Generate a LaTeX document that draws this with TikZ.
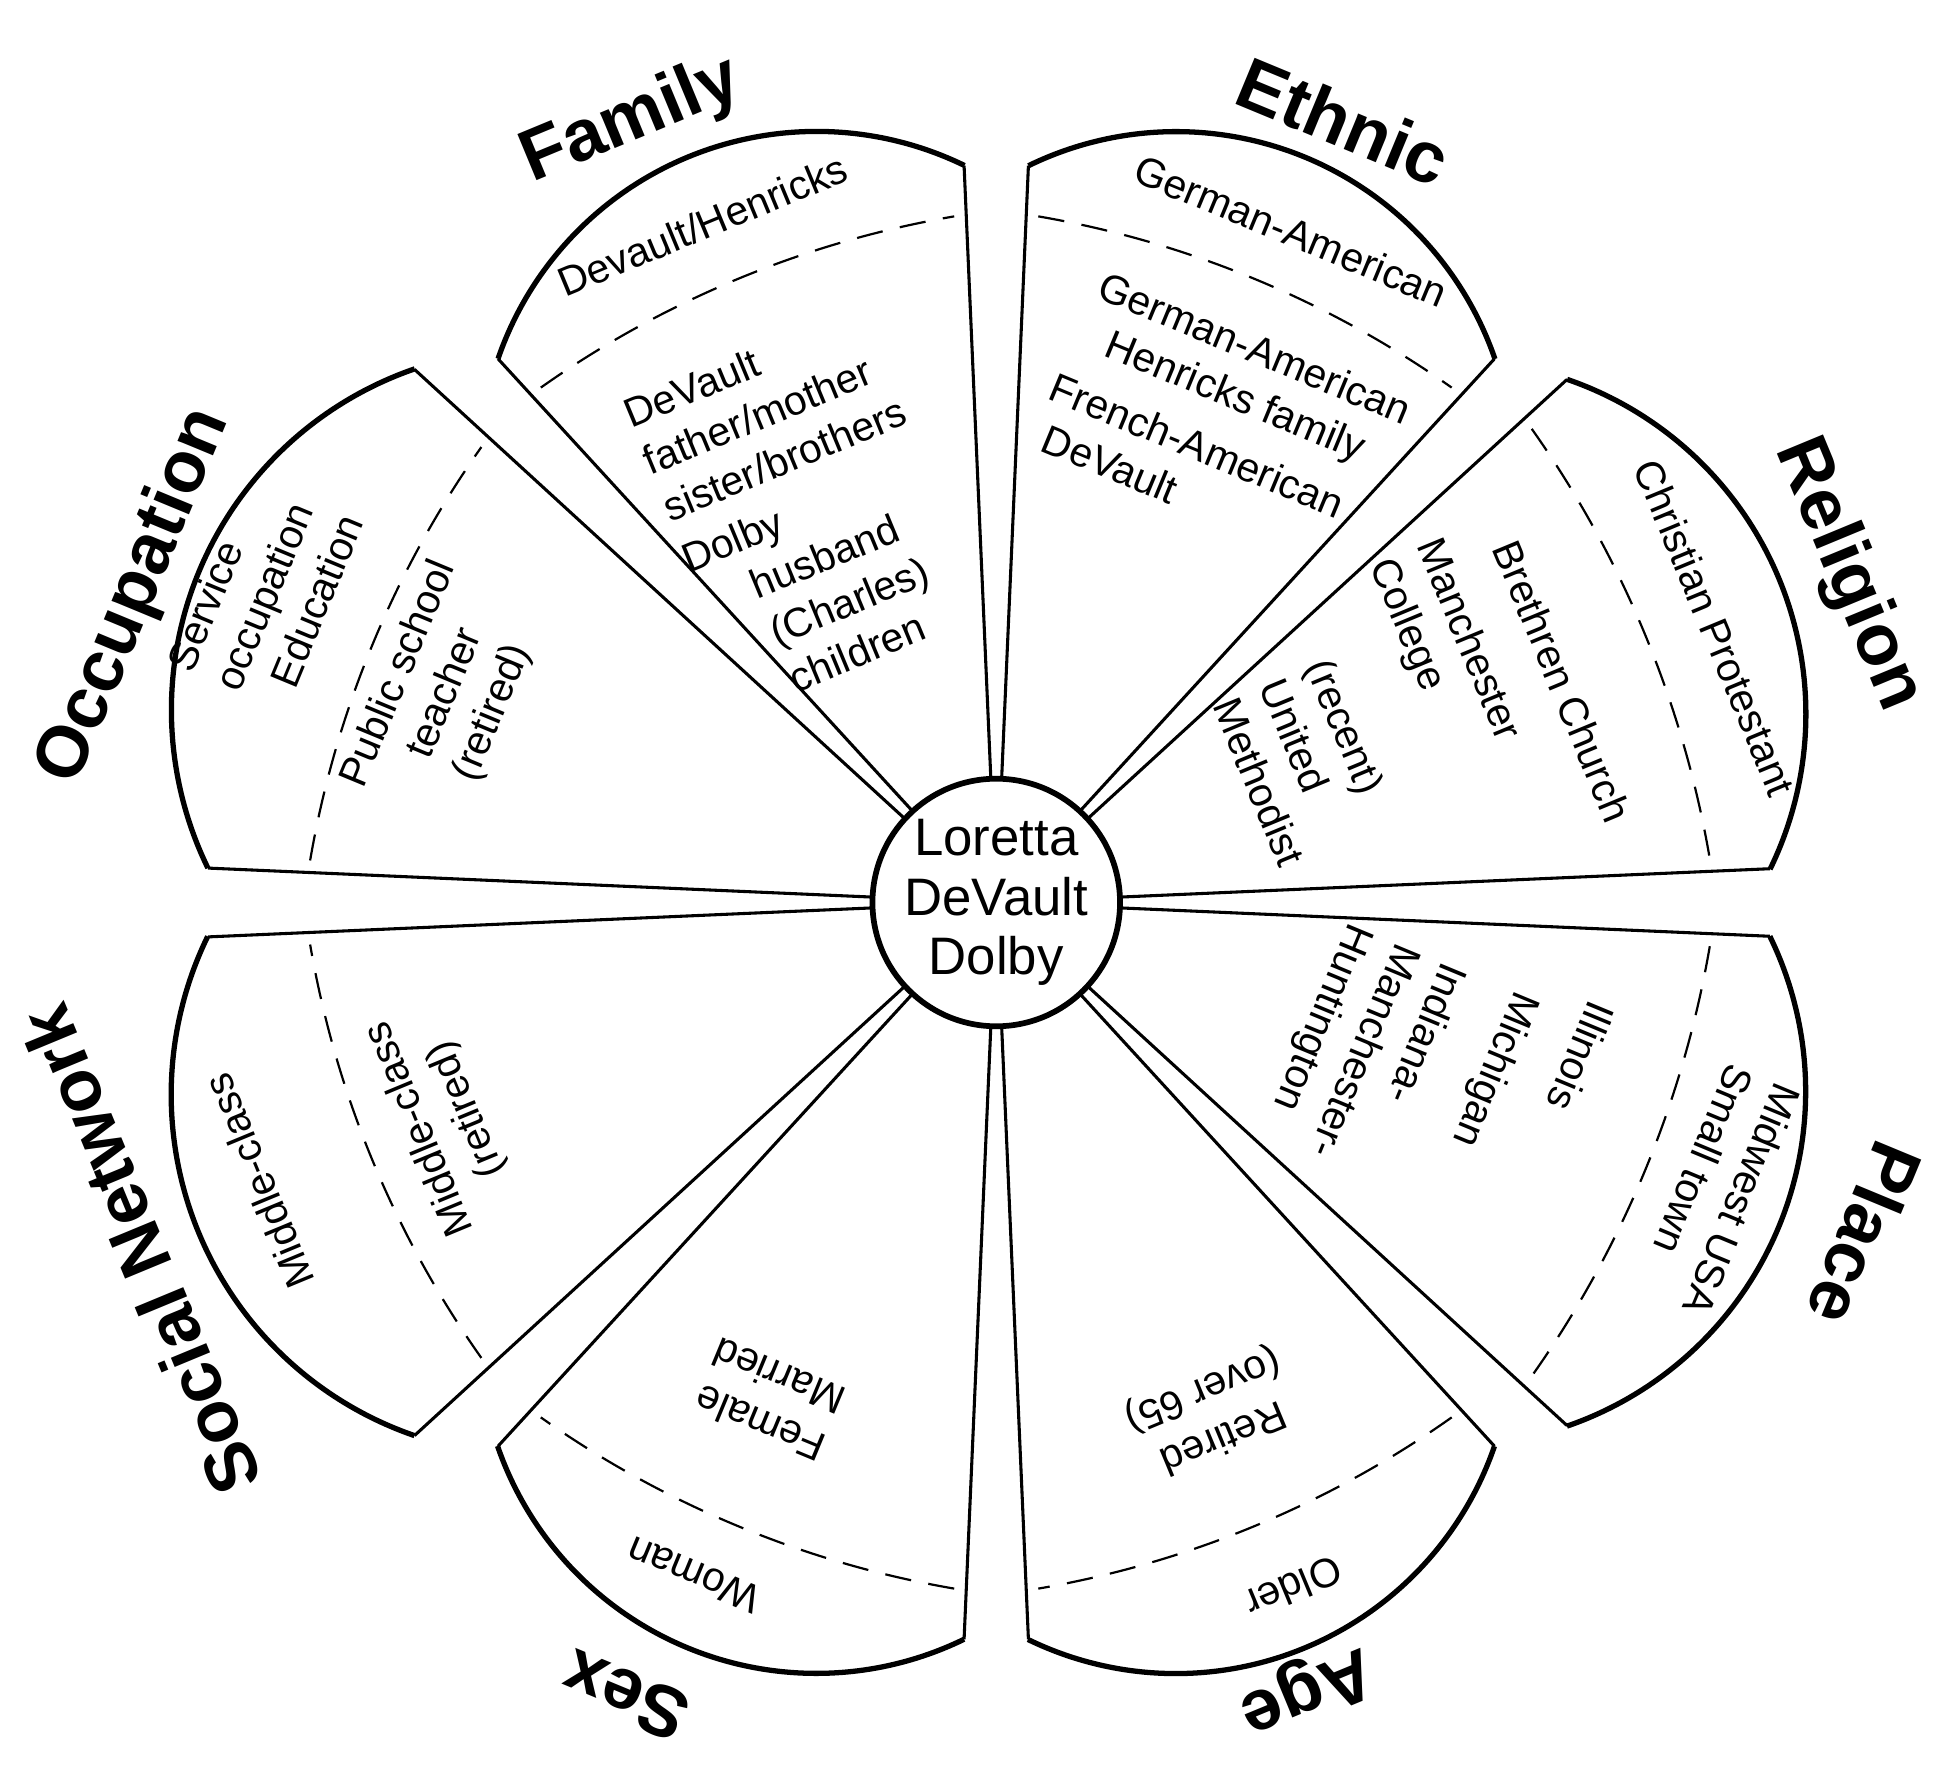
\documentclass[tikz,border=0pt]{standalone}
\usepackage{fontspec}
\setmainfont{Liberation Sans}
\usetikzlibrary{calc}
\begin{document}
\begin{tikzpicture}[x=0.01cm,y=0.01cm,
  cat/.style={font=\fontsize{16.5}{18}\selectfont\bfseries},
  txt/.style={font=\fontsize{9.3}{11.5}\selectfont,align=center},
  txl/.style={font=\fontsize{9.3}{11.5}\selectfont,align=left},
  side/.style={line width=0.7pt},
  rim/.style={line width=1.2pt},
  dsh/.style={line width=0.5pt,dash pattern=on 6pt off 4pt}]
\useasboundingbox (0,0) rectangle (1568,1432);
\coordinate (C) at (797,710);
\foreach \p/\s/\d in {22.5/1.05/1.04,67.5/1/1,112.5/1/1,157.5/1.07/1.0,202.5/1.07/1.0,247.5/1/1,292.5/1/1,337.5/1.05/1.04}{
  \draw[side] (C) -- ($(C)+(\p+20:590*\s)$) coordinate (A);
  \draw[side] (C) -- ($(C)+(\p-20:590*\s)$);
  \draw[rim] (A) arc[start angle=\p+48.5, end angle=\p-48.5, radius=269.7*\s];
  \draw[dsh] ($(C)+(\p+180:271*\d)+(\p+12.75:811*\d)$) arc[start angle=\p+12.75, end angle=\p-12.75, radius=811*\d];
}
\node[circle,draw,line width=1.3pt,fill=white,minimum size=1.8cm,inner sep=0pt,
  font=\fontsize{12}{13.5}\selectfont,align=center] (ctr) at (C) {Loretta\\DeVault\\Dolby};
% categories
\node[cat,rotate=22.5] (cfam) at (505,1335) {Family};
\node[cat,rotate=-22.5] (ceth) at (1075,1335) {Ethnic};
\node[cat,rotate=-67.5] (crel) at (1478,972) {Religion};
\node[cat,rotate=-112.5] (cpla) at (1492,445) {Place};
\node[cat,rotate=-157.5] (cage) at (1045,80) {Age};
\node[cat,rotate=157.5] (csex) at (500,75) {Sex};
\node[cat,rotate=112.5] (csoc) at (112,432) {Social Network};
\node[cat,rotate=67.5] (cocc) at (108,955) {Occupation};
% family
\node[txt,rotate=22.5] (f1) at (562,1252) {Devault/Henricks};
\node[txl,rotate=22.5] (f2) at (612,1102) {DeVault\\father/mother\\sister/brothers};
\node[txl,rotate=22.5] (f3) at (652,962) {Dolby\\\hspace{1.3em}husband\\\hspace{1.3em}(Charles)\\\hspace{1.3em}children};
% ethnic
\node[txt,rotate=-22.5] (e1) at (1033,1247) {German-American};
\node[txt,rotate=-22.5] (e2) at (995,1132) {German-American\\Henricks family};
\node[txl,rotate=-22.5] (e3) at (950,1057) {French-American\\\hspace{0.3em}DeVault};
% religion
\node[txt,rotate=-67.5] (r1) at (1372,930) {Christian Protestant};
\node[txt,rotate=-67.5] (r2) at (1250,887) {Brethren Church};
\node[txl,rotate=-67.5] (r3) at (1155,912) {Manchester\\College};
\node[txl,rotate=-67.5] (r4) at (1045,822) {(recent)\\United\\Methodist};
% place
\node[txl,rotate=-112.5] (p1) at (1375,480) {Midwest USA\\Small town};
\node[txt,rotate=-112.5] (p2) at (1265,587) {Illinois};
\node[txt,rotate=-112.5] (p3) at (1195,577) {Michigan};
\node[txl,rotate=-112.5] (p4) at (1090,592) {Indiana-\\Manchester-\\Huntington};
% age
\node[txt,rotate=-157.5] (a1) at (1035,162) {Older};
\node[txt,rotate=-157.5] (a2) at (970,302) {Retired\\(over 65)};
% sex
\node[txt,rotate=157.5] (s1) at (555,172) {Woman};
\node[txl,rotate=157.5] (s2) at (615,312) {Female\\Married};
% social
\node[txt,rotate=112.5] (n1) at (207,487) {Middle-class};
\node[txt,rotate=112.5] (n2) at (355,537) {Middle-class\\(retired)};
% occupation
\node[txl,rotate=67.5] (o1) at (212,958) {Service\\occupation\\\hspace{0.6em}Education};
\node[txt,rotate=67.5] (o2) at (357,877) {Public school\\teacher\\(retired)};
\end{tikzpicture}
\end{document}
